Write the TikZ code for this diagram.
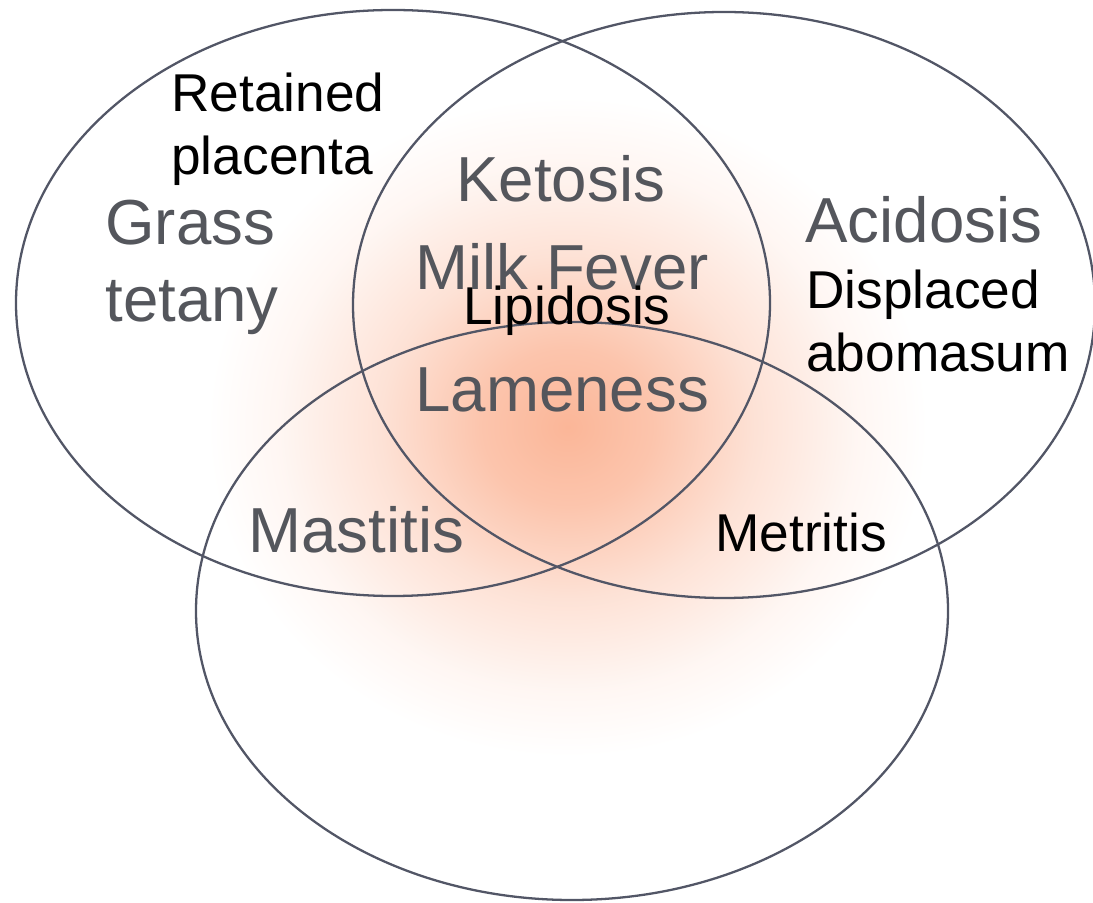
\documentclass[tikz,border=0pt]{standalone}
\usepackage{fontspec}
\setmainfont{Liberation Sans}
\usetikzlibrary{positioning}
\definecolor{cRing}{RGB}{82,86,102}
\definecolor{cGrey}{RGB}{84,86,92}
\definecolor{cGlow}{RGB}{251,182,152}
\pgfdeclareradialshading{glow}{\pgfpoint{0bp}{0bp}}{%
  color(0bp)=(cGlow); color(6bp)=(cGlow!80!white);
  color(13bp)=(cGlow!40!white); color(20bp)=(cGlow!12!white);
  color(25bp)=(white); color(50bp)=(white)}

\begin{document}
\begin{tikzpicture}[
  ring/.style={draw=cRing, line width=1.3pt},
  grey/.style={text=cGrey, anchor=base west, inner sep=0pt, align=left,
    font=\fontsize{36.2}{44}\selectfont},
  dark/.style={text=black, anchor=base west, inner sep=0pt, align=left,
    font=\fontsize{30.3}{36}\selectfont},
]
\useasboundingbox (0,0) rectangle (21.86,18.04);

% Glow behind the centre
\path[shading=glow] (11.35,9.5) ellipse [x radius=7.2cm, y radius=6.6cm];

% The three sets
\draw[ring] (7.86,11.98) ellipse [x radius=7.54cm, y radius=5.86cm];
\draw[ring] (14.48,11.94) ellipse [x radius=7.42cm, y radius=5.86cm];
\draw[ring] (11.44,5.82) ellipse [x radius=7.52cm, y radius=5.78cm];

% Printed labels (base = last line)
\node[grey] (grass) at (2.10,11.60) {Grass\\tetany};
\node[grey] (ketosis) at (9.12,14.00) {Ketosis};
\node[grey] (milk) at (8.30,12.24) {Milk Fever};
\node[grey] (acidosis) at (16.10,13.18) {Acidosis};
\node[grey] (lame) at (8.30,9.80) {Lameness};
\node[grey] (mastitis) at (4.96,6.98) {Mastitis};

% Added labels
\node[dark] (placenta) at (3.42,14.54) {Retained\\placenta};
\node[dark] (lipid) at (9.26,11.54) {Lipidosis};
\node[dark] (abomasum) at (16.12,10.60) {Displaced\\abomasum};
\node[dark] (metritis) at (14.30,7.00) {Metritis};

\end{tikzpicture}
\end{document}
